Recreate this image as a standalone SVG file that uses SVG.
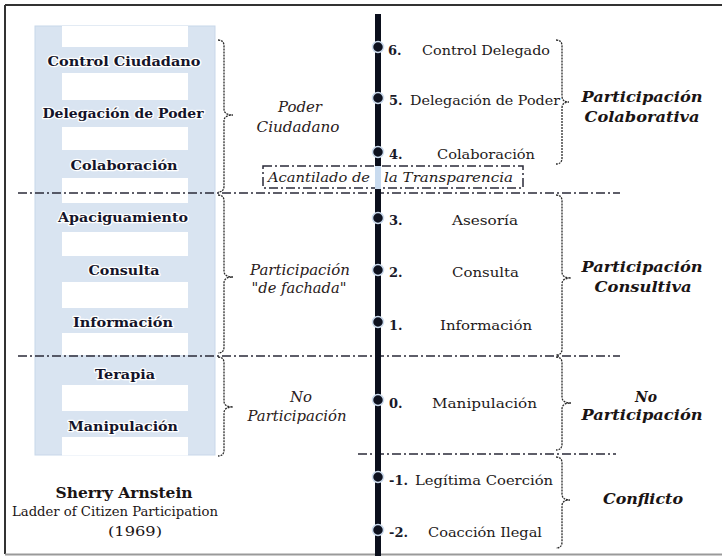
<svg xmlns="http://www.w3.org/2000/svg" width="722" height="556" viewBox="0 0 722 556">
<style>
text{font-family:"DejaVu Serif","Liberation Serif",serif}
.lad{font-weight:bold;font-size:13px;fill:#14142a;text-anchor:middle;stroke:#ffffff;stroke-width:2.5;paint-order:stroke;stroke-linejoin:round}
.it{font-style:italic;font-size:14.5px;fill:#2a2020;text-anchor:middle}
.bi{font-style:italic;font-weight:bold;font-size:15px;fill:#1a1414;text-anchor:middle}
.num{font-weight:bold;font-size:13px;fill:#1a1a2a}
.item{font-size:13px;fill:#1e1a1a}
.dash{stroke:#2a2a38;stroke-width:1.5;stroke-dasharray:9 3 2 3;fill:none}
.brace{stroke:#2a2a2a;stroke-width:1.3;stroke-dasharray:2 1;fill:none}
.dot{fill:#0e1220;stroke:#cddcee;stroke-width:1.5}
</style>
<rect x="0" y="0" width="722" height="556" fill="#ffffff"/>
<g id="border" stroke="#333" stroke-width="2" fill="none">
<line x1="5" y1="5" x2="722" y2="5"/>
<line x1="5" y1="5" x2="5" y2="554"/>
<line x1="5" y1="554.5" x2="722" y2="554.5" stroke="#9a9a9a"/>
</g>
<g id="ladder">
<rect x="35" y="26" width="180" height="429" fill="#d9e4f1" stroke="#c8d7e9" stroke-width="1"/>
<g fill="#ffffff">
<rect x="62" y="26" width="126" height="21"/>
<rect x="62" y="73" width="126" height="27"/>
<rect x="62" y="127" width="126" height="23"/>
<rect x="62" y="178" width="126" height="25"/>
<rect x="62" y="232" width="126" height="24"/>
<rect x="62" y="282" width="126" height="26"/>
<rect x="62" y="333" width="126" height="22"/>
<rect x="62" y="385" width="126" height="26"/>
<rect x="62" y="437" width="126" height="18.5"/>
</g>
<text class="lad" x="124" y="66" textLength="153" lengthAdjust="spacingAndGlyphs">Control Ciudadano</text>
<text class="lad" x="123" y="118" textLength="161" lengthAdjust="spacingAndGlyphs">Delegación de Poder</text>
<text class="lad" x="124" y="170" textLength="107" lengthAdjust="spacingAndGlyphs">Colaboración</text>
<text class="lad" x="123" y="222" textLength="130" lengthAdjust="spacingAndGlyphs">Apaciguamiento</text>
<text class="lad" x="124" y="275" textLength="71" lengthAdjust="spacingAndGlyphs">Consulta</text>
<text class="lad" x="123" y="327" textLength="100" lengthAdjust="spacingAndGlyphs">Información</text>
<text class="lad" x="125" y="379" textLength="60" lengthAdjust="spacingAndGlyphs">Terapia</text>
<text class="lad" x="123" y="431" textLength="110" lengthAdjust="spacingAndGlyphs">Manipulación</text>
</g>
<g id="credit">
<text x="124" y="498" font-weight="bold" font-size="15" fill="#1a1414" text-anchor="middle" textLength="137" lengthAdjust="spacingAndGlyphs">Sherry Arnstein</text>
<text x="115" y="516" font-size="12" fill="#1a1414" text-anchor="middle" textLength="206" lengthAdjust="spacingAndGlyphs">Ladder of Citizen Participation</text>
<text x="135" y="536" font-size="12.5" fill="#1a1414" text-anchor="middle" textLength="54" lengthAdjust="spacingAndGlyphs">(1969)</text>
</g>
<g id="connectors">
<line class="dash" x1="18" y1="193" x2="620" y2="193"/>
<line class="dash" x1="18" y1="356" x2="620" y2="356"/>
<line class="dash" x1="358" y1="454" x2="616" y2="454"/>
<rect class="dash" x="263" y="166" width="260" height="22" stroke-width="1.3"/>
<line x1="378" y1="14" x2="378" y2="166" stroke="#0b0f1c" stroke-width="6"/>
<rect x="375" y="166" width="6" height="23" fill="#c9dbef"/>
<line x1="378" y1="189" x2="378" y2="556" stroke="#0b0f1c" stroke-width="6"/>
<path class="brace" d="M218,40 Q224,40 224,46 L224,109 Q224,115 233,115 Q224,115 224,121 L224,186 Q224,192 218,192"/>
<path class="brace" d="M218,195 Q224,195 224,201 L224,271 Q224,277 233,277 Q224,277 224,283 L224,347 Q224,353 218,353"/>
<path class="brace" d="M218,357 Q224,357 224,363 L224,401 Q224,407 233,407 Q224,407 224,413 L224,450 Q224,456 218,456"/>
<path class="brace" d="M556,40 Q562,40 562,46 L562,96 Q562,102 569,102 Q562,102 562,108 L562,158 Q562,164 556,164"/>
<path class="brace" d="M556,195 Q562,195 562,201 L562,272 Q562,278 571,278 Q562,278 562,284 L562,349 Q562,355 556,355"/>
<path class="brace" d="M556,357 Q562,357 562,363 L562,397 Q562,403 571,403 Q562,403 562,409 L562,444 Q562,450 556,450"/>
<path class="brace" d="M556,457 Q562,457 562,463 L562,494 Q562,500 570,500 Q562,500 562,506 L562,542 Q562,548 556,548"/>
</g>
<g id="cliff">
<text y="182" font-style="italic" font-size="13.5" fill="#1e1a1a"><tspan x="268" textLength="102" lengthAdjust="spacingAndGlyphs">Acantilado de</tspan><tspan x="384" textLength="129" lengthAdjust="spacingAndGlyphs">la Transparencia</tspan></text>
</g>
<g id="left-groups">
<text class="it" x="300" y="112" textLength="44" lengthAdjust="spacingAndGlyphs">Poder</text>
<text class="it" x="298" y="132" textLength="83" lengthAdjust="spacingAndGlyphs">Ciudadano</text>
<text class="it" x="300" y="275" textLength="100" lengthAdjust="spacingAndGlyphs">Participación</text>
<text class="it" x="299" y="293" textLength="95" lengthAdjust="spacingAndGlyphs">"de fachada"</text>
<text class="it" x="301" y="402" textLength="22" lengthAdjust="spacingAndGlyphs">No</text>
<text class="it" x="297" y="421" textLength="99" lengthAdjust="spacingAndGlyphs">Participación</text>
</g>
<g id="steps">
<circle class="dot" cx="378" cy="47" r="5.5"/>
<circle class="dot" cx="378" cy="98" r="5.5"/>
<circle class="dot" cx="378" cy="152" r="5.5"/>
<circle class="dot" cx="378" cy="218" r="5.5"/>
<circle class="dot" cx="378" cy="270" r="5.5"/>
<circle class="dot" cx="378" cy="322" r="5.5"/>
<circle class="dot" cx="378" cy="400" r="5.5"/>
<circle class="dot" cx="378" cy="477" r="5.5"/>
<circle class="dot" cx="378" cy="530" r="5.5"/>
<text class="num" x="388" y="55">6.</text>
<text class="num" x="389" y="105">5.</text>
<text class="num" x="389" y="159">4.</text>
<text class="num" x="389" y="225">3.</text>
<text class="num" x="389" y="277">2.</text>
<text class="num" x="389" y="330">1.</text>
<text class="num" x="389" y="408">0.</text>
<text class="num" x="389" y="485">-1.</text>
<text class="num" x="389" y="537">-2.</text>
<text class="item" x="422" y="55" textLength="128" lengthAdjust="spacingAndGlyphs">Control Delegado</text>
<text class="item" x="410" y="105" textLength="150" lengthAdjust="spacingAndGlyphs">Delegación de Poder</text>
<text class="item" x="437" y="159" textLength="98" lengthAdjust="spacingAndGlyphs">Colaboración</text>
<text class="item" x="452" y="225" textLength="66" lengthAdjust="spacingAndGlyphs">Asesoría</text>
<text class="item" x="452" y="277" textLength="67" lengthAdjust="spacingAndGlyphs">Consulta</text>
<text class="item" x="440" y="330" textLength="92" lengthAdjust="spacingAndGlyphs">Información</text>
<text class="item" x="432" y="408" textLength="105" lengthAdjust="spacingAndGlyphs">Manipulación</text>
<text class="item" x="415" y="485" textLength="138" lengthAdjust="spacingAndGlyphs">Legítima Coerción</text>
<text class="item" x="428" y="537" textLength="114" lengthAdjust="spacingAndGlyphs">Coacción Ilegal</text>
</g>
<g id="right-groups">
<text class="bi" x="642" y="102" textLength="121" lengthAdjust="spacingAndGlyphs">Participación</text>
<text class="bi" x="642" y="122" textLength="115" lengthAdjust="spacingAndGlyphs">Colaborativa</text>
<text class="bi" x="642" y="272" textLength="121" lengthAdjust="spacingAndGlyphs">Participación</text>
<text class="bi" x="643" y="292" textLength="97" lengthAdjust="spacingAndGlyphs">Consultiva</text>
<text class="bi" x="646" y="402" textLength="22" lengthAdjust="spacingAndGlyphs">No</text>
<text class="bi" x="642" y="420" textLength="121" lengthAdjust="spacingAndGlyphs">Participación</text>
<text class="bi" x="643" y="504" textLength="80" lengthAdjust="spacingAndGlyphs">Conflicto</text>
</g>
</svg>
